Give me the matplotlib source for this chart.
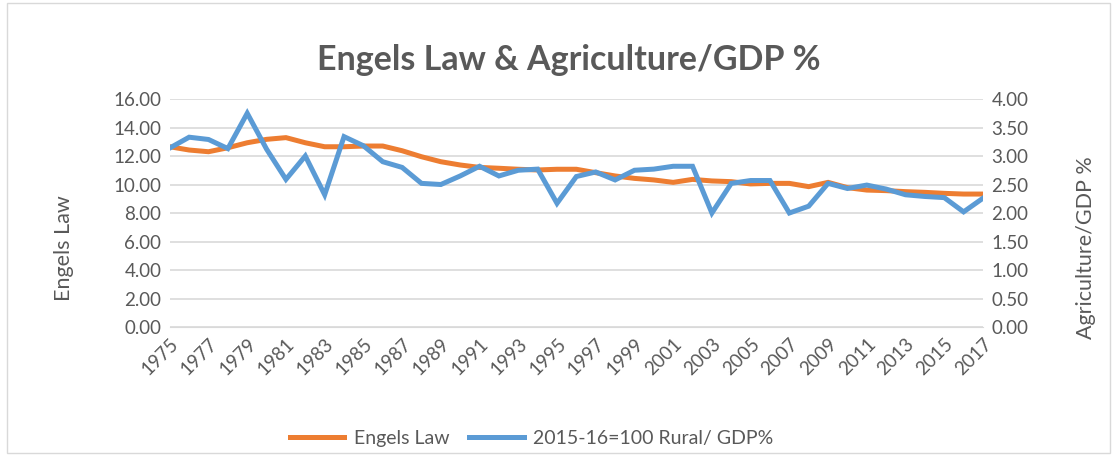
import matplotlib.pyplot as plt
from matplotlib.patches import Rectangle

years = list(range(1975, 2018))

engels_law = [12.65, 12.42, 12.30, 12.58, 12.93, 13.17, 13.29, 12.93, 12.65, 12.65,
              12.70, 12.70, 12.37, 11.95, 11.60, 11.37, 11.20, 11.14, 11.07, 11.02,
              11.07, 11.07, 10.83, 10.60, 10.43, 10.32, 10.15, 10.36, 10.25, 10.20,
              10.04, 10.08, 10.08, 9.85, 10.15, 9.78, 9.61, 9.57, 9.50, 9.45,
              9.38, 9.33, 9.33]

rural_gdp = [3.14, 3.33, 3.29, 3.13, 3.75, 3.12, 2.59, 3.00, 2.32, 3.34,
             3.18, 2.90, 2.80, 2.52, 2.50, 2.65, 2.82, 2.65, 2.75, 2.77,
             2.17, 2.64, 2.72, 2.58, 2.75, 2.77, 2.82, 2.82, 2.00, 2.52,
             2.57, 2.57, 2.00, 2.12, 2.52, 2.43, 2.49, 2.42, 2.32, 2.29,
             2.27, 2.02, 2.26]

left_ticks = [0, 2, 4, 6, 8, 10, 12, 14, 16]
right_ticks = [0, 0.5, 1.0, 1.5, 2.0, 2.5, 3.0, 3.5, 4.0]

orange = '#ED7D31'
blue = '#5B9BD5'
grey_text = '#595959'

plt.rcParams['font.family'] = ['Lato', 'DejaVu Sans']

fig = plt.figure(figsize=(11.17, 4.55), dpi=100)
ax = fig.add_axes([0.152, 0.2813, 0.728, 0.5011])
ax2 = ax.twinx()

x = list(range(len(years)))
l1, = ax.plot(x, engels_law, color=orange, lw=3.6, solid_joinstyle='miter', label='Engels Law')
l2, = ax2.plot(x, rural_gdp, color=blue, lw=3.6, solid_joinstyle='miter',
               label='2015-16=100 Rural/ GDP%')
ax2.set_zorder(ax.get_zorder() + 1)

ax.set_ylim(0, 16)
ax2.set_ylim(0, 4)
ax.set_xlim(0, len(years) - 1)
ax.set_yticks(left_ticks)
ax.set_yticklabels(['%.2f' % v for v in left_ticks])
ax2.set_yticks(right_ticks)
ax2.set_yticklabels(['%.2f' % v for v in right_ticks])

ax.set_xticks(x[::2])
ax.set_xticklabels([str(y) for y in years[::2]], rotation=45, ha='right',
                   rotation_mode='anchor')

ax.grid(axis='y', color='#D9D9D9', lw=1.2)
ax.set_axisbelow(True)
for a in (ax, ax2):
    for s in a.spines.values():
        s.set_visible(False)
    a.tick_params(length=0, labelsize=13.5, colors=grey_text, pad=6)
ax.spines['bottom'].set_visible(True)
ax.spines['bottom'].set_color('#D9D9D9')

# axis titles sit a bit lower than the plot centre, like the original
fig.text(0.057, 0.455, 'Engels Law', rotation=90, ha='center', va='center',
         fontsize=15.5, color=grey_text)
fig.text(0.972, 0.455, 'Agriculture/GDP %', rotation=90, ha='center', va='center',
         fontsize=15.5, color=grey_text)

fig.text(0.509, 0.868, 'Engels Law & Agriculture/GDP %', ha='center', va='center',
         fontsize=24.5, fontweight='bold', color=grey_text)

fig.legend(handles=[l1, l2], loc='center', bbox_to_anchor=(0.476, 0.037), ncol=2,
           frameon=False, fontsize=14, labelcolor=grey_text, handlelength=2.8,
           handletextpad=0.5, columnspacing=1.0)

fig.patches.append(Rectangle((0.006, 0.004), 0.988, 0.99, transform=fig.transFigure,
                             fill=False, edgecolor='#D9D9D9', lw=1))

fig.savefig('out.png', dpi=100)
